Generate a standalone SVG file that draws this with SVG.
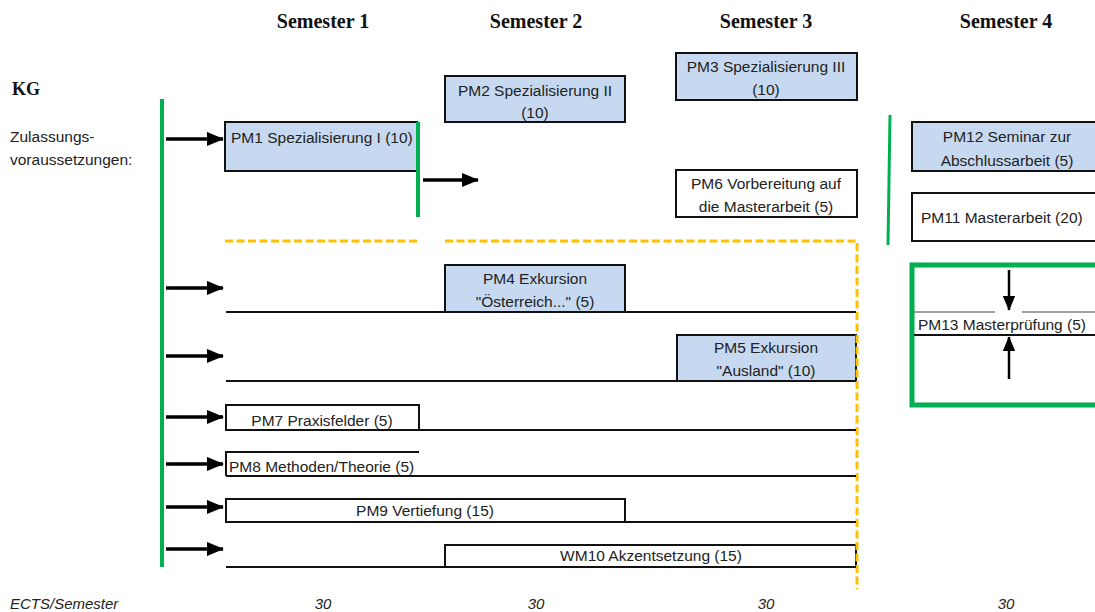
<svg xmlns="http://www.w3.org/2000/svg" width="1095" height="612" viewBox="0 0 1095 612">
<defs>
<marker id="ah" viewBox="0 0 18 15" refX="17" refY="7.5" markerWidth="17" markerHeight="15" markerUnits="userSpaceOnUse" orient="auto">
<path d="M0,0 L18,7.5 L0,15 z" fill="#000"/>
</marker>
<marker id="ah2" viewBox="0 0 18 15" refX="17" refY="7.5" markerWidth="15" markerHeight="13" markerUnits="userSpaceOnUse" orient="auto">
<path d="M0,0 L18,7.5 L0,15 z" fill="#000"/>
</marker>
</defs>
<style>
.hd{font-family:"Liberation Serif",serif;font-weight:bold;font-size:20px;fill:#111;}
.t{font-family:"Liberation Sans",Arial,sans-serif;font-size:15.5px;fill:#222;}
.it{font-family:"Liberation Sans",Arial,sans-serif;font-size:15px;font-style:italic;fill:#222;}
.blue{fill:#C6D9F1;stroke:#111;stroke-width:2;}
.wb{fill:#fff;stroke:#111;stroke-width:2;}
.ln{stroke:#111;stroke-width:2;fill:none;}
.arr{stroke:#000;stroke-width:3.5;fill:none;marker-end:url(#ah);}
.green{stroke:#00B050;fill:none;}
.dash{stroke:#FFC000;stroke-width:3;fill:none;stroke-dasharray:8 3.5;}
</style>
<rect width="1095" height="612" fill="#fff"/>

<g id="headers">
<text class="hd" x="323" y="28" text-anchor="middle">Semester 1</text>
<text class="hd" x="536" y="28" text-anchor="middle">Semester 2</text>
<text class="hd" x="766" y="28" text-anchor="middle">Semester 3</text>
<text class="hd" x="1006" y="28" text-anchor="middle">Semester 4</text>
<text class="hd" x="12" y="95" style="font-size:18px">KG</text>
<text class="t" x="10" y="142">Zulassungs-</text>
<text class="t" x="10" y="165">voraussetzungen:</text>
</g>

<g id="pm3">
<rect class="blue" x="676" y="53" width="181" height="47"/>
<text class="t" x="766" y="72" text-anchor="middle">PM3 Spezialisierung III</text>
<text class="t" x="766" y="95" text-anchor="middle">(10)</text>
</g>
<g id="pm2">
<rect class="blue" x="445" y="76" width="180" height="46"/>
<text class="t" x="535" y="96" text-anchor="middle">PM2 Spezialisierung II</text>
<text class="t" x="535" y="118" text-anchor="middle">(10)</text>
</g>
<g id="pm1">
<rect x="225" y="122" width="193" height="49" fill="#C6D9F1"/>
<path class="ln" d="M418,122 H225 V171 H418"/>
<text class="t" x="231" y="143">PM1 Spezialisierung I (10)</text>
</g>
<g id="pm6">
<rect class="wb" x="676" y="170" width="181" height="47"/>
<text class="t" x="766" y="189" text-anchor="middle">PM6 Vorbereitung auf</text>
<text class="t" x="766" y="212" text-anchor="middle">die Masterarbeit (5)</text>
</g>
<g id="pm12">
<rect class="blue" x="912" y="122" width="200" height="49"/>
<text class="t" x="1007" y="142" text-anchor="middle">PM12 Seminar zur</text>
<text class="t" x="1007" y="166" text-anchor="middle">Abschlussarbeit (5)</text>
</g>
<g id="pm11">
<rect class="wb" x="912" y="193" width="200" height="48"/>
<text class="t" x="921" y="223">PM11 Masterarbeit (20)</text>
</g>
<g id="pm13">
<rect x="912" y="265" width="200" height="140" fill="none" stroke="#00B050" stroke-width="5"/>
<path d="M914,312 H995 M1022,312 H1095" stroke="#444" stroke-width="1.2"/>
<path d="M914,335 H1095" stroke="#111" stroke-width="2"/>
<text class="t" x="918" y="330">PM13 Masterprüfung (5)</text>
</g>
<g id="pm4">
<rect class="blue" x="445" y="265" width="180" height="47"/>
<text class="t" x="535" y="284" text-anchor="middle">PM4 Exkursion</text>
<text class="t" x="535" y="307" text-anchor="middle">"Österreich..." (5)</text>
</g>
<g id="pm5">
<rect class="blue" x="677" y="335" width="179" height="46"/>
<text class="t" x="766" y="353" text-anchor="middle">PM5 Exkursion</text>
<text class="t" x="766" y="376" text-anchor="middle">"Ausland" (10)</text>
</g>
<g id="pm7">
<rect class="wb" x="226" y="405" width="193" height="25"/>
<text class="t" x="322" y="426" text-anchor="middle">PM7 Praxisfelder (5)</text>
</g>
<g id="pm8">
<path class="ln" d="M419,452 H226 V476"/>
<text class="t" x="229" y="472">PM8 Methoden/Theorie (5)</text>
</g>
<g id="pm9">
<rect class="wb" x="226" y="499" width="399" height="23"/>
<text class="t" x="425" y="516" text-anchor="middle">PM9 Vertiefung (15)</text>
</g>
<g id="wm10">
<rect class="wb" x="445" y="545" width="411" height="22"/>
<text class="t" x="651" y="561" text-anchor="middle">WM10 Akzentsetzung (15)</text>
</g>

<g id="footer">
<text class="it" x="10" y="609">ECTS/Semester</text>
<text class="it" x="323" y="609" text-anchor="middle">30</text>
<text class="it" x="536" y="609" text-anchor="middle">30</text>
<text class="it" x="766" y="609" text-anchor="middle">30</text>
<text class="it" x="1006" y="609" text-anchor="middle">30</text>
</g>

<g id="connectors">
<line class="green" x1="162" y1="99" x2="162" y2="567" stroke-width="4"/>
<line class="green" x1="418" y1="122" x2="418" y2="217" stroke-width="4"/>
<line class="green" x1="890" y1="115" x2="888" y2="245" stroke-width="3"/>
<path class="dash" d="M225,241 H418 M445,241 H857 V589"/>
<path class="ln" d="M226,312 H856 M226,381 H856 M419,430 H856 M226,476 H856 M625,522 H856 M226,567 H856"/>
<path class="arr" d="M166,139 H223"/>
<path class="arr" d="M423,180 H478"/>
<path class="arr" d="M166,288 H223"/>
<path class="arr" d="M166,356 H223"/>
<path class="arr" d="M166,417 H223"/>
<path class="arr" d="M166,464 H223"/>
<path class="arr" d="M166,507 H223"/>
<path class="arr" d="M166,549 H223"/>
<path d="M1009,270 V310" stroke="#000" stroke-width="2.5" marker-end="url(#ah2)"/>
<path d="M1009,379 V337" stroke="#000" stroke-width="2.5" marker-end="url(#ah2)"/>
</g>
</svg>
